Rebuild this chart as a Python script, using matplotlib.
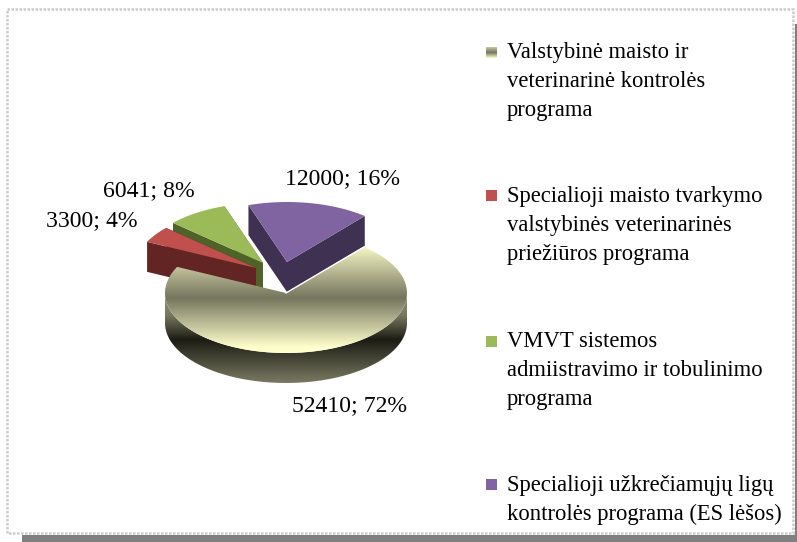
import numpy as np
import matplotlib
matplotlib.use('Agg')
import matplotlib.pyplot as plt
from matplotlib.patches import Polygon, Rectangle
from matplotlib.colors import LinearSegmentedColormap

plt.rcParams['font.family'] = ['Liberation Serif', 'DejaVu Serif']

names = ['Valstybinė maisto ir\nveterinarinė kontrolės\nprograma',
         'Specialioji maisto tvarkymo\nvalstybinės veterinarinės\npriežiūros programa',
         'VMVT sistemos\nadmiistravimo ir tobulinimo\nprograma',
         'Specialioji užkrečiamųjų ligų\nkontrolės programa (ES lėšos)']
values = [52410, 3300, 6041, 12000]
percents = [72, 4, 8, 16]

top_colors = ['#ffffcc', '#c0504d', '#9bbb59', '#8064a2']
side_colors = ['#1a1a14', '#632523', '#4f6228', '#3f3151']

# pie geometry in pixels
cx, cy = 286, 293
rx, ry = 121, 60
depth = 30
start = 50
offsets = [(0, 0), (-30, -25), (-23, -30), (1, -31)]
label_pos = [(292, 406), (46, 221), (103, 191), (285, 179)]
key_y = [52, 195, 341, 484]
text_y = [42, 186, 331, 475]

fig = plt.figure(figsize=(7.97, 5.42), dpi=100)
ax = fig.add_axes([0, 0, 1, 1])
ax.set_xlim(0, 797)
ax.set_ylim(542, 0)
ax.axis('off')

# shadow and dotted frame
ax.add_patch(Rectangle((22, 535), 775, 7, color='#808080', lw=0))
ax.add_patch(Rectangle((795, 24), 2, 518, color='#808080', lw=0))
ax.add_patch(Rectangle((7, 9), 786, 524, fill=False, ec='#cccccc', lw=1.8, ls=(0, (1, 0.6))))


def arc(a0, a1, ox, oy, dy=0, n=80):
    a = np.radians(np.linspace(a0, a1, n))
    return np.column_stack([cx + ox + rx*np.cos(a), cy + oy + dy - ry*np.sin(a)])


def gradient(patch, y0, y1, stops, z, xr=(100, 450)):
    cmap = LinearSegmentedColormap.from_list('g', stops)
    g = np.linspace(0, 1, 256).reshape(-1, 1)
    im = ax.imshow(g, cmap=cmap, extent=(xr[0], xr[1], y1, y0), aspect='auto', zorder=z)
    ax.add_patch(patch)
    im.set_clip_path(patch)


# slice angles, the big slice runs clockwise from the start angle
fr = np.array(values) / sum(values) * 360
a0_main = start - fr[0]
a = a0_main + 360
angles = {0: (a0_main, start),
          1: (a - fr[1], a),
          2: (a - fr[1] - fr[2], a - fr[1]),
          3: (a - fr[1] - fr[2] - fr[3], a - fr[1] - fr[2])}

# back slices, red lies over the green wall
for i, z in ((2, 3), (1, 4), (3, 5)):
    a0, a1 = angles[i]
    ox, oy = offsets[i]
    tip = np.array([cx + ox, cy + oy])
    rim = arc(a0, a1, ox, oy)
    d = np.array([0, depth])
    ax.add_patch(Polygon([tip, rim[0], rim[0] + d, tip + d], color=side_colors[i], lw=0, zorder=z))
    ax.add_patch(Polygon([tip, rim[-1], rim[-1] + d, tip + d], color=side_colors[i], lw=0, zorder=z))
    ax.add_patch(Polygon(np.vstack([tip, rim]), color=top_colors[i], lw=0, zorder=z + 0.5))

# big slice: rim wall then top, both with banded gradients
low = arc(180, 360, 0, 0)
wall = Polygon(np.vstack([low, arc(360, 180, 0, 0, depth)]), fc='none', lw=0, zorder=6, transform=ax.transData)
gradient(wall, 293, 383, [(0, '#9a9a7c'), (0.25, '#76765f'), (0.52, '#1c1c14'), (1, '#7a7a62')], 6)

a0, a1 = angles[0]
rim = arc(a0, a1, 0, 0)
top = Polygon(np.vstack([[cx, cy], rim]), fc='none', lw=0, zorder=7, transform=ax.transData)
gradient(top, 243, 353, [(0, '#ffffcc'), (0.5, '#75755e'), (0.95, '#ffffcc'), (1, '#ffffcc')], 7)
ax.plot([cx, rim[-1][0]], [cy, rim[-1][1]], color='white', lw=1, zorder=7.5)

# data labels
for v, p, (x, y) in zip(values, percents, label_pos):
    ax.text(x, y, f'{v}; {p}%', fontsize=17.1, color='black', va='center', ha='left', zorder=9)

# legend
for i, name in enumerate(names):
    if i == 0:
        gradient(Rectangle((486, key_y[i] - 5), 11, 11, fc='none', lw=0, transform=ax.transData),
                 key_y[i] - 5, key_y[i] + 6, ['#c8c8a4', '#75755e', '#ffffcc'], 8, xr=(486, 497))
    else:
        ax.add_patch(Rectangle((486, key_y[i] - 5), 11, 11, color=top_colors[i], lw=0))
    ax.text(507, text_y[i], name, fontsize=16.3, va='top', ha='left', linespacing=1.5, color='black')

ax.set_xlim(0, 797)
ax.set_ylim(542, 0)
fig.savefig('out.png', dpi=100)
